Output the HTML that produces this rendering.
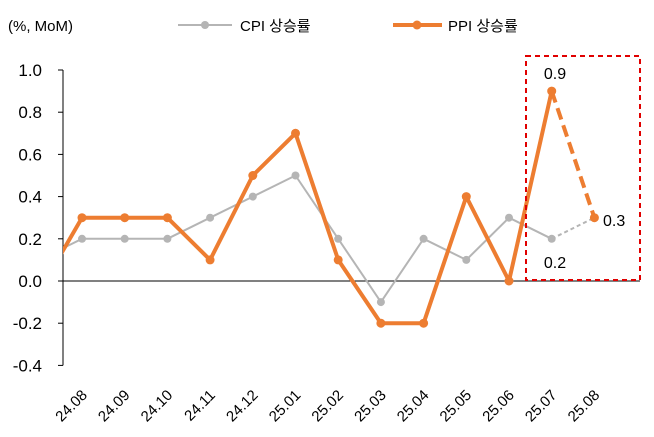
<!DOCTYPE html>
<html><head><meta charset="utf-8"><style>
body{margin:0;background:#fff;}
svg{display:block;font-family:"Liberation Sans","Noto Sans CJK KR",sans-serif;}
</style></head><body>
<svg id="chart" width="654" height="437"></svg>
<script>
const categories=["24.07","24.08","24.09","24.10","24.11","24.12","25.01","25.02","25.03","25.04","25.05","25.06","25.07","25.08"];
const cpiValues=[0.1,0.2,0.2,0.2,0.3,0.4,0.5,0.2,-0.1,0.2,0.1,0.3,0.2,0.3];
const ppiValues=[-0.05,0.3,0.3,0.3,0.1,0.5,0.7,0.1,-0.2,-0.2,0.4,0.0,0.9,0.3];
const yTicks=[1.0,0.8,0.6,0.4,0.2,0.0,-0.2,-0.4];
const NS="http://www.w3.org/2000/svg";
const svg=document.getElementById('chart');
const x0=63,step=42.7,firstX=82-step;
const xS=i=>firstX+i*step;
const yS=v=>281-v*211;
function el(t,a,p){const e=document.createElementNS(NS,t);for(const k in a)e.setAttribute(k,a[k]);(p||svg).appendChild(e);return e;}
const defs=el('defs',{});const cp=el('clipPath',{id:'clip'},defs);el('rect',{x:x0,y:0,width:600,height:437},cp);
const ax=el('line',{x1:x0,y1:yS(1.0),x2:x0,y2:yS(-0.4),stroke:'#000','stroke-width':1});

const zx=el('line',{x1:x0,y1:yS(0),x2:640,y2:yS(0),stroke:'#000','stroke-width':1});

yTicks.forEach(v=>{
 el('line',{x1:x0-5,y1:yS(v),x2:x0,y2:yS(v),stroke:'#000'});
 const t=el('text',{x:42,y:yS(v)+6,'text-anchor':'end','font-size':17,fill:'#000'});
 t.textContent=v.toFixed(1);
 
});
categories.forEach((c,i)=>{
 if(i===0)return;
 const x=xS(i);
 const t=el('text',{x:x+6,y:396,'text-anchor':'end','font-size':15,fill:'#000',transform:`rotate(-45 ${x+6} 396)`});
 t.textContent=c;
 
});
const yl=el('text',{x:8,y:31,'font-size':15,fill:'#000'});yl.textContent='(%, MoM)';

function series(vals,color,w,r,name,dash){
 const g=el('g',{'clip-path':'url(#clip)'});
 
 const n=vals.length;
 const pts=vals.slice(0,n-1).map((v,i)=>xS(i)+','+yS(v)).join(' ');
 el('polyline',{points:pts,fill:'none',stroke:color,'stroke-width':w,'stroke-linejoin':'round'},g);
 el('line',{x1:xS(n-2),y1:yS(vals[n-2]),x2:xS(n-1),y2:yS(vals[n-1]),stroke:color,'stroke-width':w,'stroke-dasharray':dash},g);
 vals.forEach((v,i)=>{if(i===0)return;const c=el('circle',{cx:xS(i),cy:yS(v),r:r,fill:color},g);
  });
}
series(cpiValues,'#b5b5b5',2,4,'cpi-series','4 3');
series(ppiValues,'#ed7d31',4,4.5,'ppi-series','12 6');
const box=el('rect',{x:526,y:56,width:114,height:224,fill:'none',stroke:'#e00000','stroke-width':2,'stroke-dasharray':'5 4'});

[[555,79,'0.9'],[603,226,'0.3'],[555,268,'0.2']].forEach(a=>{const t=el('text',{x:a[0],y:a[1],'text-anchor':a[2]==='0.3'?'start':'middle','font-size':16,fill:'#000'});t.textContent=a[2];
 });
const lg=el('g',{});
el('line',{x1:178,y1:25,x2:232,y2:25,stroke:'#b5b5b5','stroke-width':2},lg);
el('circle',{cx:205,cy:25,r:4,fill:'#b5b5b5'},lg);
const t1=el('text',{x:240,y:31,'font-size':15,fill:'#000'},lg);t1.textContent='CPI 상승률';
el('line',{x1:393,y1:25,x2:442,y2:25,stroke:'#ed7d31','stroke-width':4},lg);
el('circle',{cx:417,cy:25,r:4.5,fill:'#ed7d31'},lg);
const t2=el('text',{x:448,y:31,'font-size':15,fill:'#000'},lg);t2.textContent='PPI 상승률';
</script>
</body></html>
